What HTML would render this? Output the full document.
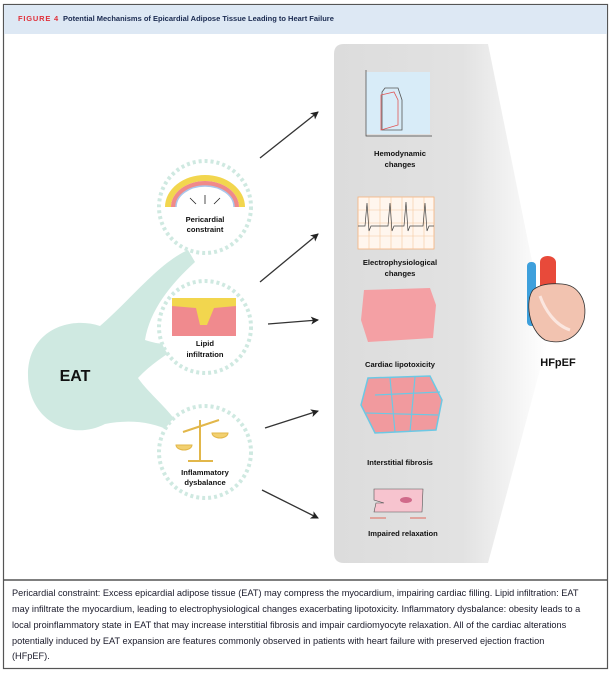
<!DOCTYPE html>
<html><head><meta charset="utf-8"><style>
body{margin:0;width:612px;height:673px;background:#fff;overflow:hidden;font-family:"Liberation Sans",sans-serif}
</style></head><body>
<svg width="612" height="673" viewBox="0 0 612 673" xmlns="http://www.w3.org/2000/svg" font-family="Liberation Sans, sans-serif">
<defs>
<linearGradient id="g" x1="0" y1="0" x2="1" y2="0">
<stop offset="0" stop-color="#dcdcdc"/><stop offset="0.6" stop-color="#e2e2e2"/><stop offset="1" stop-color="#fff"/>
</linearGradient>
<marker id="a" markerWidth="8" markerHeight="8" refX="7" refY="4" orient="auto" markerUnits="userSpaceOnUse"><path d="M0,0 L8,4 L0,8 L2,4z" fill="#222"/></marker>
</defs>
<rect x="3.5" y="4.5" width="604" height="664" fill="#fff" stroke="#555" stroke-width="1.2"/>
<rect x="4" y="5" width="603" height="29" fill="#dde8f4"/>
<text x="18" y="21" font-size="7.5" font-weight="bold"><tspan fill="#e0303a" letter-spacing="0.8">FIGURE 4</tspan><tspan fill="#1a2a50" dx="4">Potential Mechanisms of Epicardial Adipose Tissue Leading to Heart Failure</tspan></text>
<line x1="4" y1="580" x2="607" y2="580" stroke="#333" stroke-width="1.2"/>
<path d="M344,44 L488,44 L548,340 L488,563 L344,563 Q334,563 334,553 L334,54 Q334,44 344,44z" fill="url(#g)"/>
<path d="M28,375 C28,330 70,316 100,326 C130,300 160,262 188,250 L195,262 C170,285 150,310 145,340 C160,345 170,345 178,340 L182,345 C165,355 150,365 138,378 C150,395 170,410 178,425 L172,432 C150,420 125,420 105,424 C70,442 28,420 28,375z" fill="#cfe9e1"/>
<text x="75" y="381" font-size="16" font-weight="bold" text-anchor="middle" fill="#111">EAT</text>
<g fill="#fff" stroke="#cfe9e1" stroke-width="4" stroke-dasharray="3,3">
<circle cx="205" cy="207" r="46"/><circle cx="205" cy="327" r="46"/><circle cx="205" cy="452" r="46"/>
</g>
<path d="M165,207 A40,32 0 0 1 245,207 L239,207 A34,26 0 0 0 171,207z" fill="#f2d64e"/>
<path d="M171,207 A34,26 0 0 1 239,207 L234,207 A29,21 0 0 0 176,207z" fill="#f08a8a"/>
<path d="M176,207 A29,21 0 0 1 234,207" fill="none" stroke="#a9c7ec" stroke-width="1.5"/>
<g stroke="#222" stroke-width="0.8"><line x1="196" y1="204" x2="190" y2="198"/><line x1="205" y1="204" x2="205" y2="195"/><line x1="214" y1="204" x2="220" y2="198"/></g>
<g font-size="7.6" font-weight="bold" text-anchor="middle" fill="#111">
<text x="205" y="222">Pericardial</text><text x="205" y="232">constraint</text>
<text x="205" y="346">Lipid</text><text x="205" y="357">infiltration</text>
<text x="205" y="475">Inflammatory</text><text x="205" y="485">dysbalance</text>
</g>
<rect x="172" y="300" width="64" height="36" fill="#f08a8e"/>
<path d="M172,298 L236,298 L236,306 L214,308 L207,325 L200,325 L196,308 L172,306z" fill="#f2d64e"/>
<g stroke="#e2b74a" stroke-width="2" fill="#f2d070"><line x1="200" y1="420" x2="200" y2="460"/><line x1="183" y1="432" x2="219" y2="420"/><line x1="188" y1="461" x2="213" y2="461"/>
<path d="M176,445 A8,5 0 0 0 192,445z" stroke-width="1"/><path d="M212,433 A8,5 0 0 0 228,433z" stroke-width="1"/></g>
<g stroke="#333" stroke-width="1.3" marker-end="url(#a)">
<line x1="260" y1="158" x2="318" y2="112"/><line x1="260" y1="282" x2="318" y2="234"/>
<line x1="268" y1="324" x2="318" y2="320"/><line x1="265" y1="428" x2="318" y2="411"/>
<line x1="262" y1="490" x2="318" y2="518"/></g>
<rect x="366" y="72" width="64" height="62" fill="#d8ecf8"/>
<path d="M366,70 L366,136 L432,136" fill="none" stroke="#444" stroke-width="0.7"/>
<path d="M382,92 L382,130 L402,130 L402,100 L398,88 L385,88z" fill="none" stroke="#555" stroke-width="0.8"/>
<path d="M381,95 L381,130 L398,125 L398,100 L394,92z" fill="none" stroke="#e05555" stroke-width="0.8"/>
<rect x="358" y="197" width="76" height="52" fill="#fff6ee" stroke="#f5b27a" stroke-width="0.8"/>
<g stroke="#f5c79c" stroke-width="0.6"><line x1="369" y1="197" x2="369" y2="249"/><line x1="380" y1="197" x2="380" y2="249"/><line x1="391" y1="197" x2="391" y2="249"/><line x1="402" y1="197" x2="402" y2="249"/><line x1="413" y1="197" x2="413" y2="249"/><line x1="424" y1="197" x2="424" y2="249"/><line x1="358" y1="210" x2="434" y2="210"/><line x1="358" y1="223" x2="434" y2="223"/><line x1="358" y1="236" x2="434" y2="236"/></g>
<path d="M358,226 L365,226 L367,203 L369,231 L371,226 L388,226 L390,203 L392,231 L394,226 L404,226 L406,202 L408,231 L410,226 L423,226 L425,203 L427,231 L429,226 L434,226" fill="none" stroke="#444" stroke-width="0.7"/>
<path d="M364,290 L430,288 L436,305 L433,338 L368,342 L361,320z" fill="#f4a0a4"/>
<path d="M368,378 L430,376 L442,400 L436,430 L375,433 L361,405z" fill="#f19a9e" stroke="#6cc8e4" stroke-width="1.5"/>
<g stroke="#6cc8e4" stroke-width="1.2"><line x1="375" y1="395" x2="440" y2="392"/><line x1="366" y1="413" x2="438" y2="415"/><line x1="390" y1="378" x2="395" y2="432"/><line x1="415" y1="377" x2="410" y2="432"/></g>
<path d="M374,489 L423,489 L422,512 L374,512 L376,503 L384,503 L374,500z" fill="#f7c4cf" stroke="#555" stroke-width="0.6"/>
<ellipse cx="406" cy="500" rx="6" ry="3" fill="#d06a8a"/>
<g stroke="#e04b3a" stroke-width="0.8"><line x1="370" y1="518" x2="386" y2="518"/><line x1="410" y1="518" x2="426" y2="518"/></g>
<g font-size="7.6" font-weight="bold" text-anchor="middle" fill="#111">
<text x="400" y="156">Hemodynamic</text><text x="400" y="167">changes</text>
<text x="400" y="265">Electrophysiological</text><text x="400" y="276">changes</text>
<text x="400" y="367">Cardiac lipotoxicity</text>
<text x="400" y="465">Interstitial fibrosis</text>
<text x="403" y="536">Impaired relaxation</text>
</g>
<rect x="527" y="262" width="9" height="64" rx="4" fill="#3ea0dc"/>
<path d="M540,262 C540,254 555,254 556,262 L556,290 L540,290z" fill="#e84a3a"/>
<path d="M533,290 C525,300 528,330 545,340 C560,345 578,340 584,320 C588,300 578,285 562,284 C550,283 540,284 533,290z" fill="#f2c3b0" stroke="#333" stroke-width="0.8"/>
<path d="M540,296 C545,310 555,325 570,330" fill="none" stroke="#fbe6df" stroke-width="3"/>
<text x="558" y="366" font-size="11" font-weight="bold" text-anchor="middle" fill="#111">HFpEF</text>
<g font-size="9.2" fill="#1a1a2a">
<text x="12" y="596">Pericardial constraint: Excess epicardial adipose tissue (EAT) may compress the myocardium, impairing cardiac filling. Lipid infiltration: EAT</text>
<text x="12" y="612">may infiltrate the myocardium, leading to electrophysiological changes exacerbating lipotoxicity. Inflammatory dysbalance: obesity leads to a</text>
<text x="12" y="628">local proinflammatory state in EAT that may increase interstitial fibrosis and impair cardiomyocyte relaxation. All of the cardiac alterations</text>
<text x="12" y="644">potentially induced by EAT expansion are features commonly observed in patients with heart failure with preserved ejection fraction</text>
<text x="12" y="659">(HFpEF).</text>
</g>
</svg>
</body></html>
